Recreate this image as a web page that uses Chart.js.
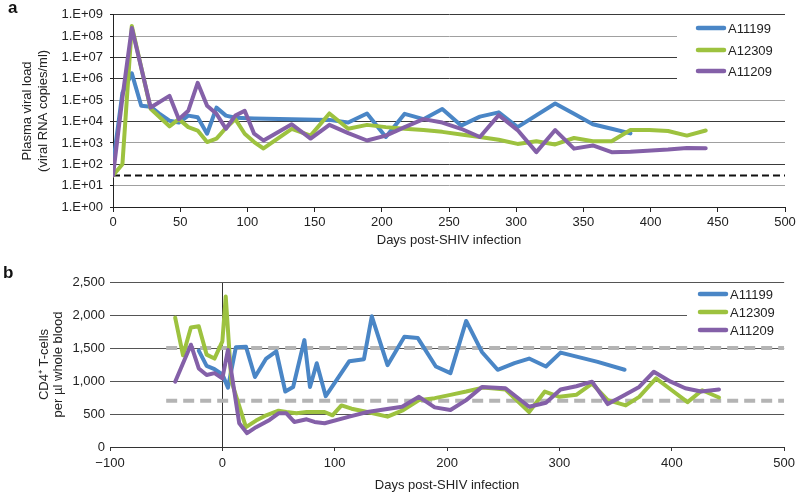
<!DOCTYPE html>
<html>
<head>
<meta charset="utf-8">
<title>SHIV viral load and CD4 T-cells</title>
<script src="https://cdn.jsdelivr.net/npm/chart.js@4.4.1/dist/chart.umd.min.js"></script>
<style>
  body { margin: 0; background: #fff; }
  #wrap { position: relative; width: 800px; height: 496px; font-family: 'Liberation Sans', Arial, sans-serif; }
  #wrap canvas { position: absolute; left: 0; }
  .tag { position: absolute; font-weight: bold; font-size: 17px; line-height: 17px; color: #111; }
</style>
</head>
<body>
<div id="wrap">
  <canvas id="chartA" width="800" height="248" style="top:0"></canvas>
  <canvas id="chartB" width="800" height="248" style="top:248px"></canvas>
  <div class="tag" style="left:8px;top:-1px">a</div>
  <div class="tag" style="left:3px;top:264px">b</div>
</div>
<script>
'use strict';
// animal names
let animals = ['A11199', 'A12309', 'A11209'];
let colors = ['#4a86c6', '#9dc23f', '#8460a8'];

// panel a - plasma viral load (copies/ml)
let blueDaysA = [0,7,14,21,28,35,42,49,56,63,70,77,84,91,105,133,161,175,189,203,217,231,245,259,273,287,301,329,343,357,371,385];
let blueVL = [100,2.2e5,1.8e6,5.5e4,5e4,2.2e4,1.1e4,9e3,1.9e4,1.6e4,2.7e3,4.5e4,1.9e4,1.5e4,1.4e4,1.3e4,1.2e4,9e3,2.4e4,1.9e3,2.3e4,1.3e4,3.9e4,6.5e3,1.7e4,2.7e4,5.5e3,7e4,2.3e4,7.5e3,4.6e3,2.8e3];
let greenDaysA = [0,7,14,28,42,49,56,63,70,77,84,91,98,105,112,133,147,161,175,189,203,217,231,245,259,273,287,301,315,329,343,357,371,385,399,413,427,441];
let greenVL = [30,100,3e8,4e4,6e3,1.3e4,5.5e3,3.8e3,1.1e3,1.6e3,5e3,1.3e4,2.7e3,1.1e3,5.5e2,4.6e3,2.2e3,2.4e4,4.6e3,7e3,5.5e3,4.6e3,4e3,3.3e3,2.5e3,1.9e3,1.4e3,9e2,1.2e3,8.5e2,1.7e3,1.2e3,1.2e3,4e3,4e3,3.6e3,2.2e3,3.8e3];
let purpleDaysA = [0,7,14,28,42,49,56,63,70,77,84,91,98,105,112,133,147,161,175,189,203,217,231,245,259,273,287,301,315,329,343,357,371,385,413,427,441];
let purpleVL = [30,1.3e5,2.4e8,4.6e4,1.6e5,1.3e4,3.2e4,6.5e5,5.5e4,2.3e4,4.6e3,1.9e4,3.2e4,2.7e3,1.3e3,7.5e3,1.6e3,7e3,2.9e3,1.3e3,2.2e3,5.5e3,1.3e4,9e3,4.6e3,1.9e3,2e4,4e3,3.7e2,4e3,5.4e2,7.6e2,3.7e2,3.9e2,4.9e2,5.8e2,5.7e2];
let detectionLimit = 30;
let viralTicks = [1,1e1,1e2,1e3,1e4,1e5,1e6,1e7,1e8,1e9];
let lightDecades = [1,3,5,8];

// panel b - CD4+ T-cells per ul
let blueDaysB = [-21,-14,-7,0,5,12,21,29,39,48,56,63,73,78,84,92,113,126,133,147,162,174,190,203,217,231,245,260,273,288,301,334,358];
let blueCD4 = [1460,1230,1180,1100,900,1510,1520,1060,1340,1450,840,910,1620,910,1270,770,1300,1330,1980,1240,1670,1650,1220,1120,1910,1440,1170,1270,1340,1220,1430,1290,1170];
let greenDaysB = [-42,-35,-28,-21,-14,-7,0,3,8,21,30,39,50,57,66,75,84,91,98,106,115,129,147,161,175,189,203,217,232,252,273,287,300,315,329,343,359,371,386,400,414,427,442];
let greenCD4 = [1960,1390,1810,1830,1400,1340,1600,2280,1000,300,400,480,550,530,510,530,530,530,480,630,580,530,460,560,710,740,790,840,900,870,530,840,760,790,960,710,630,760,1040,860,680,860,750];
let purpleDaysB = [-42,-28,-21,-14,-7,0,5,15,22,30,42,50,57,64,75,82,91,113,129,160,175,189,203,217,231,252,273,288,301,315,329,343,356,371,384,399,412,426,442];
let purpleCD4 = [990,1550,1190,1090,1120,1040,1470,360,210,300,410,510,510,380,420,380,360,460,530,610,760,600,560,710,910,890,610,670,870,920,990,650,770,910,1140,990,890,840,870];
let normalHigh = 1500;
let normalLow = 700;
let refStart = -50;
let refEnd = 500;

let textColor = '#222';
Chart.defaults.font.family = "'Liberation Sans', Arial, sans-serif";
Chart.defaults.font.size = 13;
Chart.defaults.color = textColor;

function pts(days, vals) {
    return days.map((d, i) => ({ x: d, y: vals[i] }));
}

function series(i, days, vals, order) {
    return {
        label: animals[i],
        data: pts(days, vals),
        borderColor: colors[i],
        backgroundColor: colors[i],
        borderWidth: 4,
        pointRadius: 0,
        tension: 0,
        borderJoinStyle: 'round',
        borderCapStyle: 'round',
        order: order
    };
}

// legend drawn in a white box over the grid, like the original
function legendBox(id, box, rows) {
    return {
        id: id,
        beforeDatasetsDraw(chart) {
            let ctx = chart.ctx;
            ctx.save();
            ctx.fillStyle = '#fff';
            ctx.fillRect(box.x, box.y, box.w, box.h);
            ctx.font = "13px 'Liberation Sans', Arial, sans-serif";
            ctx.textBaseline = 'middle';
            ctx.lineCap = 'round';
            ctx.lineWidth = 4.5;
            for (let i = 0; i < animals.length; i++) {
                ctx.strokeStyle = colors[i];
                ctx.beginPath();
                ctx.moveTo(box.lineX, rows[i]);
                ctx.lineTo(box.lineX + 26, rows[i]);
                ctx.stroke();
                ctx.fillStyle = textColor;
                ctx.fillText(animals[i], box.textX, rows[i] + 1);
            }
            ctx.restore();
        }
    };
}

// ---------- panel a ----------
new Chart(document.getElementById('chartA').getContext('2d'), {
    type: 'line',
    data: {
        datasets: [
            series(0, blueDaysA, blueVL, 3),
            series(1, greenDaysA, greenVL, 2),
            series(2, purpleDaysA, purpleVL, 1),
            {
                label: 'limit',
                data: [{ x: 0, y: detectionLimit }, { x: 500, y: detectionLimit }],
                borderColor: '#111',
                borderWidth: 2,
                borderDash: [7, 4],
                pointRadius: 0,
                order: 4
            }
        ]
    },
    options: {
        responsive: false,
        animation: false,
        devicePixelRatio: 1,
        layout: { padding: { left: 0, right: 15, top: 13, bottom: 0 } },
        plugins: { legend: { display: false }, tooltip: { enabled: false } },
        scales: {
            x: {
                type: 'linear', min: 0, max: 500,
                afterFit: s => { s.height = 41; },
                ticks: { stepSize: 50, padding: 3, maxRotation: 0, color: textColor },
                grid: { drawOnChartArea: false, tickLength: 5, tickColor: '#222' },
                border: { display: true, color: '#222', width: 1 },
                title: { display: true, text: 'Days post-SHIV infection', color: textColor, padding: { top: 0, bottom: 0 } }
            },
            y: {
                type: 'logarithmic', min: 1, max: 1e9,
                afterBuildTicks: s => { s.ticks = viralTicks.map(v => ({ value: v })); },
                afterFit: s => { s.width = 113; },
                ticks: {
                    autoSkip: false, padding: 7, color: textColor,
                    callback: v => '1.E+' + String(Math.round(Math.log10(v))).padStart(2, '0')
                },
                grid: {
                    tickLength: 3, tickColor: '#222', lineWidth: 1,
                    color: c => lightDecades.includes(Math.round(Math.log10(c.tick.value))) ? '#a0a0a0' : '#3a3a3a'
                },
                border: { display: true, color: '#222', width: 1 },
                title: {
                    display: true, text: ['Plasma viral load', '(viral RNA copies/ml)'], color: textColor,
                    font: { size: 13, lineHeight: 1.23 }, padding: { top: 19, bottom: 0 }
                }
            }
        }
    },
    plugins: [legendBox('legendA', { x: 677, y: 20, w: 120, h: 70, lineX: 698, textX: 728 }, [28, 50, 71])]
});

// ---------- panel b ----------
new Chart(document.getElementById('chartB').getContext('2d'), {
    type: 'line',
    data: {
        datasets: [
            series(0, blueDaysB, blueCD4, 3),
            series(1, greenDaysB, greenCD4, 2),
            series(2, purpleDaysB, purpleCD4, 1),
            {
                label: 'high',
                data: [{ x: refStart, y: normalHigh }, { x: refEnd, y: normalHigh }],
                borderColor: '#b4b4b4', borderWidth: 4, borderDash: [11, 6], pointRadius: 0, order: 5
            },
            {
                label: 'low',
                data: [{ x: refStart, y: normalLow }, { x: refEnd, y: normalLow }],
                borderColor: '#b4b4b4', borderWidth: 4, borderDash: [11, 6], pointRadius: 0, order: 5
            }
        ]
    },
    options: {
        responsive: false,
        animation: false,
        devicePixelRatio: 1,
        layout: { padding: { left: 0, right: 15, top: 34, bottom: 0 } },
        plugins: { legend: { display: false }, tooltip: { enabled: false } },
        scales: {
            x: {
                type: 'linear', min: -100, max: 500,
                afterFit: s => { s.height = 49; },
                ticks: {
                    stepSize: 100, padding: 5, maxRotation: 0, color: textColor,
                    callback: v => v < 0 ? '\u2212' + Math.abs(v) : String(v)
                },
                grid: {
                    drawOnChartArea: true, tickLength: 4, tickColor: '#333', lineWidth: 1,
                    color: c => c.tick && c.tick.value === 0 ? '#333' : 'rgba(0,0,0,0)'
                },
                border: { display: true, color: '#333', width: 1 },
                title: { display: true, text: 'Days post-SHIV infection', color: textColor, padding: { top: 0, bottom: 3 } }
            },
            y: {
                type: 'linear', min: 0, max: 2500,
                afterFit: s => { s.width = 110; },
                ticks: { stepSize: 500, padding: 5, color: textColor, callback: v => v.toLocaleString('en-US') },
                grid: { tickLength: 0, color: '#555', lineWidth: 1 },
                border: { display: false },
                title: {
                    display: true, text: ['CD4\u207A T-cells', 'per \u00B5l whole blood'], color: textColor,
                    font: { size: 13, lineHeight: 1.1 }, padding: { top: 37, bottom: 0 }
                }
            }
        }
    },
    plugins: [legendBox('legendB', { x: 687, y: 38, w: 110, h: 52, lineX: 700, textX: 730 }, [46, 64, 82])]
});
</script>
</body>
</html>
